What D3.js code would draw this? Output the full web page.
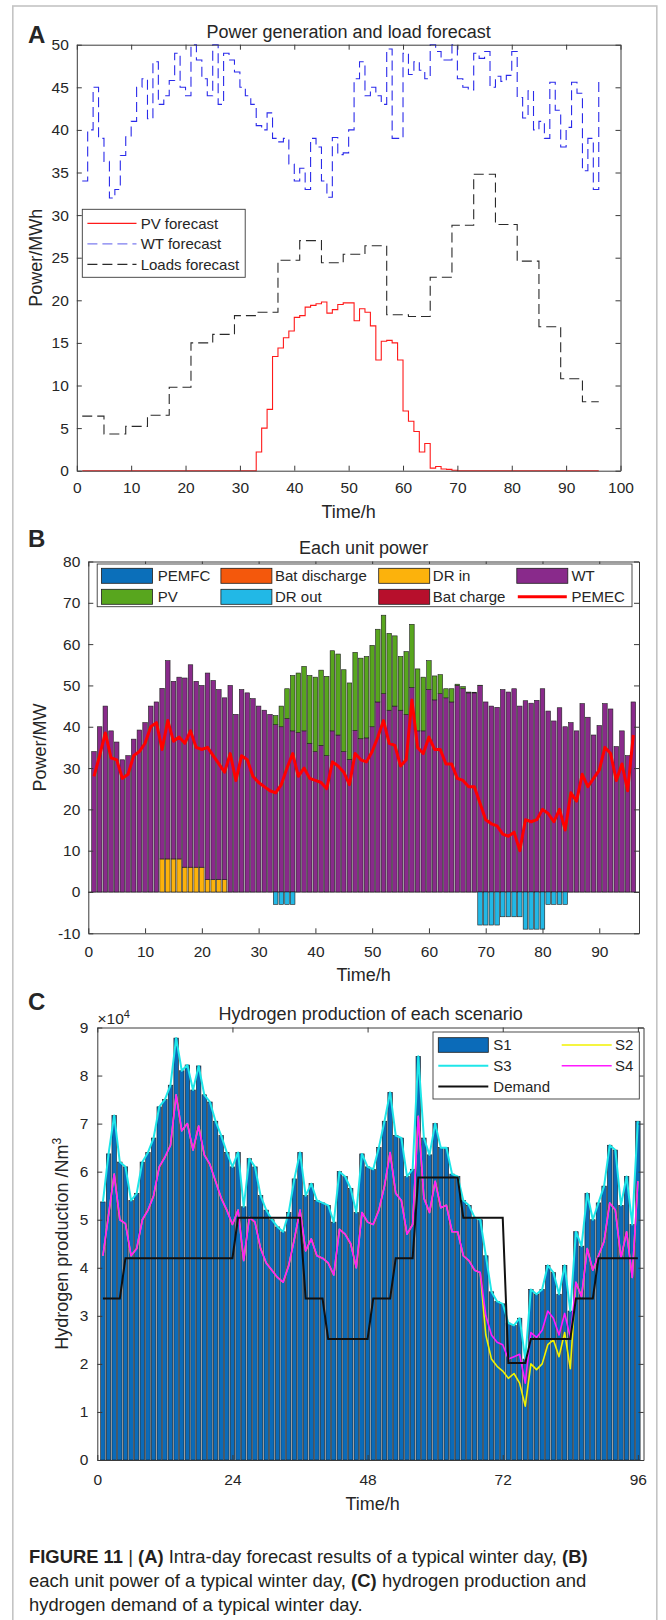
<!DOCTYPE html>
<html>
<head>
<meta charset="utf-8">
<title>Typical winter day: forecast, unit power and hydrogen production</title>
<script src="https://cdn.jsdelivr.net/npm/d3@7"></script>
<style>
  html, body { margin: 0; padding: 0; background: #fff; }
  svg { display: block; }
  text { font-family: "Liberation Sans", Arial, Helvetica, sans-serif; fill: #262626; }
</style>
</head>
<body>
<svg id="figure" width="666" height="1620"></svg>
<script>
// ---------------- data ----------------
// quarter-hour steps of the day
const steps = d3.range(1, 97);

// (A) forecasts, MW
const windForecast = [
  34, 40, 45, 39, 36.3, 32, 33, 37, 39.2, 41,
  45, 46, 41.3, 48, 43, 44, 45.8, 49, 45, 44,
  50, 48.2, 46, 44, 50, 43, 49, 48.2, 46.8, 45,
  44, 43, 40.5, 40, 42, 39, 38.6, 39, 36, 34,
  35.5, 33, 39, 38, 34, 32.1, 39.1, 37.1, 37.3, 40,
  46, 48, 44, 45, 44, 43, 49.5, 39, 39, 49,
  46.5, 48, 47, 46, 50, 49.2, 48.2, 48.2, 50, 46,
  45, 44.7, 49, 48.4, 49.2, 45, 46.3, 45.7, 46.4, 49.2,
  43.8, 41.4, 44.6, 40, 41, 39, 45.6, 42.3, 38, 40.3,
  45.6, 44.3, 35.2, 39, 33, 46
];
const pvForecast = [
  0, 0, 0, 0, 0, 0, 0, 0, 0, 0,
  0, 0, 0, 0, 0, 0, 0, 0, 0, 0,
  0, 0, 0, 0, 0, 0, 0, 0, 0, 0,
  0, 0, 2.2, 5.0, 7.2, 13.4, 14.4, 15.6, 16.4, 18.0,
  18.2, 19.2, 19.4, 19.6, 19.8, 18.5, 18.9, 19.5, 19.7, 19.7,
  17.6, 19.0, 18.6, 17.0, 13.0, 15.2, 15.3, 15.0, 13.0, 7.0,
  5.8, 4.6, 2.2, 3.2, 0.3, 0.5, 0.2, 0.15, 0.05, 0,
  0, 0, 0, 0, 0, 0, 0, 0, 0, 0,
  0, 0, 0, 0, 0, 0, 0, 0, 0, 0,
  0, 0, 0, 0, 0, 0
];
const loadHourly = [
  6.4, 4.3, 5.2, 6.5, 9.8, 15.0, 16.0, 18.2, 18.6, 24.7, 27.0, 24.4,
  25.4, 26.4, 18.3, 18.1, 22.7, 28.8, 34.8, 28.9, 24.6, 16.9, 10.8, 8.1
];

// (B) unit outputs, MW (hourly schedules hold for four steps)
const pemfcHourly        = [0,0,0,0,0,0,0,0,0,0,0,0,0,0,0,0,0,0,0,0,0,0,0,0];
const batDischargeHourly = [0,0,0,0,0,0,0,0,0,0,0,0,0,0,0,0,0,0,0,0,0,0,0,0];
const drInHourly         = [0,0,0,8,6,3,0,0,0,0,0,0,0,0,0,0,0,0,0,0,0,0,0,0];
const drOutHourly        = [0,0,0,0,0,0,0,0,-3,0,0,0,0,0,0,0,0,-8,-6,-9,-3,0,0,0];
const batChargeHourly    = [0,0,0,0,0,0,0,0,0,0,0,0,0,0,0,0,0,0,0,0,0,0,0,0];
const pemecPower = [
  28, 33, 38.5, 32.5, 32, 27.5, 28.5, 33, 34, 36,
  40, 41, 34.5, 41.5, 36.5, 37.5, 36, 39, 35, 34.5,
  35, 33, 31, 29, 33.5, 27, 33, 32, 28, 26.5,
  25.5, 24.5, 24, 26, 30, 33.5, 28, 30, 27.5, 27,
  26.5, 25, 31.5, 30.5, 29, 26, 33.5, 32, 31.5, 34,
  37.5, 41.5, 36, 35.5, 30.5, 32, 46.5, 35, 33.5, 37.5,
  34.5, 34.5, 31, 31, 27.5, 27, 25.5, 25.5, 21.5, 17.5,
  16.5, 16, 14, 13.5, 14.5, 10, 17.5, 17, 17.5, 20,
  19, 17, 20, 15, 24, 22, 28.5, 25.5, 27.5, 29.5,
  35, 33.5, 27, 31, 24.5, 38
];

// (C) hydrogen production per scenario, 10^4 Nm³
const s1 = [
  5.37, 6.37, 7.17, 6.2, 6.1, 5.4, 5.55, 6.2, 6.4, 6.7,
  7.35, 7.5, 7.8, 8.78, 8.1, 8.22, 7.7, 8.2, 7.6, 7.45,
  7.05, 6.75, 6.4, 6.1, 6.4, 5.27, 6.27, 6.1, 5.5, 5.2,
  5.0, 4.85, 4.75, 5.15, 5.85, 6.4, 5.5, 5.75, 5.4, 5.35,
  5.3, 4.95, 6.0, 5.9, 5.65, 5.15, 6.37, 6.1, 6.05, 6.5,
  7.05, 7.65, 6.75, 6.7, 5.9, 6.05, 8.4, 6.7, 6.35, 7.0,
  6.5, 6.5, 5.95, 5.9, 5.4, 5.3, 5.05, 5.0, 4.25, 3.5,
  3.3, 3.25, 2.85, 2.8, 2.95, 2.1, 3.55, 3.45, 3.55, 4.05,
  3.9, 3.45, 4.05, 3.1, 4.75, 4.45, 5.55, 5.0, 5.35, 5.7,
  6.55, 6.45, 5.3, 5.9, 4.9, 7.05
];
const s2 = [
  4.25, 5.1, 5.95, 5.0, 4.92, 4.25, 4.4, 5.0, 5.2, 5.5,
  6.1, 6.3, 6.55, 7.6, 6.85, 7.0, 6.45, 6.95, 6.35, 6.15,
  5.8, 5.45, 5.2, 4.9, 5.2, 4.15, 5.05, 4.95, 4.4, 4.1,
  3.95, 3.8, 3.7, 4.05, 4.6, 5.2, 4.35, 4.6, 4.25, 4.2,
  4.1, 3.85, 4.8, 4.7, 4.5, 4.0, 5.15, 4.95, 4.9, 5.2,
  5.7, 6.4, 5.55, 5.4, 4.7, 4.9, 7.15, 5.45, 5.15, 5.8,
  5.25, 5.3, 4.75, 4.75, 4.25, 4.15, 3.95, 3.9, 2.6, 2.1,
  1.95, 1.85, 1.7, 1.8, 1.6, 1.12, 2.0, 1.88, 2.0, 2.4,
  2.5, 2.15, 2.65, 1.9, 3.7, 3.4, 4.4, 3.95, 4.25, 4.55,
  5.35, 5.2, 4.2, 4.75, 3.8, 5.8
];
const s3 = [
  5.37, 6.37, 7.17, 6.2, 6.1, 5.4, 5.55, 6.2, 6.4, 6.7,
  7.35, 7.5, 7.8, 8.78, 8.1, 8.22, 7.7, 8.2, 7.6, 7.45,
  7.05, 6.75, 6.4, 6.1, 6.4, 5.27, 6.27, 6.1, 5.5, 5.2,
  5.0, 4.85, 4.75, 5.15, 5.85, 6.4, 5.5, 5.75, 5.4, 5.35,
  5.3, 4.95, 6.0, 5.9, 5.65, 5.15, 6.37, 6.1, 6.05, 6.5,
  7.05, 7.65, 6.75, 6.7, 5.9, 6.05, 8.4, 6.7, 6.35, 7.0,
  6.5, 6.5, 5.95, 5.9, 5.4, 5.3, 5.05, 5.0, 4.25, 3.5,
  3.3, 3.25, 2.85, 2.8, 2.95, 2.1, 3.55, 3.45, 3.55, 4.05,
  3.9, 3.45, 4.05, 3.1, 4.75, 4.45, 5.55, 5.0, 5.35, 5.7,
  6.55, 6.45, 5.3, 5.9, 4.9, 7.05
];
const s4 = [
  4.25, 5.1, 5.95, 5.0, 4.92, 4.25, 4.4, 5.0, 5.2, 5.5,
  6.1, 6.3, 6.55, 7.6, 6.85, 7.0, 6.45, 6.95, 6.35, 6.15,
  5.8, 5.45, 5.2, 4.9, 5.2, 4.15, 5.05, 4.95, 4.4, 4.1,
  3.95, 3.8, 3.7, 4.05, 4.6, 5.2, 4.35, 4.6, 4.25, 4.2,
  4.1, 3.85, 4.8, 4.7, 4.5, 4.0, 5.15, 4.95, 4.9, 5.2,
  5.7, 6.4, 5.55, 5.4, 4.7, 4.9, 7.15, 5.45, 5.15, 5.8,
  5.25, 5.3, 4.75, 4.75, 4.25, 4.15, 3.95, 3.9, 3.0, 2.6,
  2.45, 2.4, 2.1, 2.15, 2.2, 1.6, 2.65, 2.55, 2.7, 3.1,
  2.95, 2.6, 3.05, 2.55, 3.7, 3.4, 4.4, 3.95, 4.25, 4.55,
  5.35, 5.2, 4.2, 4.75, 3.8, 5.8
];
const demandHourly = [
  3.36, 4.2, 4.2, 4.2, 4.2, 4.2, 5.04, 5.04, 5.04, 3.36, 2.52, 2.52,
  3.36, 4.2, 5.88, 5.88, 5.04, 5.04, 2.02, 2.52, 2.52, 3.36, 4.2, 4.2
];

// tick values
const ticksAx = [0, 10, 20, 30, 40, 50, 60, 70, 80, 90, 100];
const ticksAy = [0, 5, 10, 15, 20, 25, 30, 35, 40, 45, 50];
const ticksBx = [0, 10, 20, 30, 40, 50, 60, 70, 80, 90];
const ticksBy = [-10, 0, 10, 20, 30, 40, 50, 60, 70, 80];
const ticksCx = [0, 24, 48, 72, 96];
const ticksCy = [0, 1, 2, 3, 4, 5, 6, 7, 8, 9];

// ---------------- drawing ----------------
const svg = d3.select("#figure");
const AXIS = "#3a3a3a";
const TICK_FONT = "15.5px";
const LABEL_FONT = "18px";

// light outer frame
svg.append("rect")
  .attr("x", 12.8).attr("y", 6).attr("width", 644).attr("height", 1640)
  .attr("fill", "none").attr("stroke", "#c4c4c4").attr("stroke-width", 1.6);

function styleAxis(sel) {
  sel.attr("font-family", null).attr("font-size", null);
  sel.select(".domain").attr("stroke", AXIS).attr("stroke-width", 1);
  sel.selectAll(".tick line").attr("stroke", AXIS).attr("stroke-width", 1);
  sel.selectAll(".tick text").style("font-size", TICK_FONT).attr("fill", "#262626");
}

// boxed axes with inward ticks on all four sides
function boxAxes(g, x, y, o) {
  const [yb, yt] = y.range();
  const [xl, xr] = x.range();
  const tl = 5;
  const fmt = d => String(d);
  g.append("g").attr("transform", `translate(0,${yb})`)
    .call(d3.axisBottom(x).tickValues(o.xTicks).tickFormat(fmt).tickSizeInner(-tl).tickSizeOuter(0).tickPadding(o.xPad))
    .call(styleAxis);
  g.append("g").attr("transform", `translate(0,${yt})`)
    .call(d3.axisTop(x).tickValues(o.xTicks).tickFormat("").tickSizeInner(-tl).tickSizeOuter(0))
    .call(styleAxis);
  g.append("g").attr("transform", `translate(${xl},0)`)
    .call(d3.axisLeft(y).tickValues(o.yTicks).tickFormat(fmt).tickSizeInner(-tl).tickSizeOuter(0).tickPadding(o.yPad))
    .call(styleAxis);
  g.append("g").attr("transform", `translate(${xr},0)`)
    .call(d3.axisRight(y).tickValues(o.yTicks).tickFormat("").tickSizeInner(-tl).tickSizeOuter(0))
    .call(styleAxis);
}

function text(g, x, y, s, size, opts = {}) {
  const t = g.append("text").attr("x", x).attr("y", y).text(s).style("font-size", size);
  if (opts.anchor) t.attr("text-anchor", opts.anchor);
  if (opts.bold) t.style("font-weight", "bold");
  if (opts.rotate) t.attr("transform", `rotate(-90,${x},${y})`);
  return t;
}

// ===== (A) Power generation and load forecast =====
{
  const g = svg.append("g");
  const x = d3.scaleLinear().domain([0, 100]).range([76.8, 620.5]);
  const y = d3.scaleLinear().domain([0, 50]).range([470.7, 44.7]);

  const stairs = d3.line().curve(d3.curveStepAfter).x(d => x(d[0])).y(d => y(d[1]));
  const loadSteps = steps.map(t => [t, loadHourly[Math.floor((t - 1) / 4)]]);

  g.append("path").datum(steps.map((t, i) => [t, pvForecast[i]]))
    .attr("d", stairs).attr("fill", "none").attr("stroke", "#ff1a1a").attr("stroke-width", 1.1);
  g.append("path").datum(steps.map((t, i) => [t, windForecast[i]]))
    .attr("d", stairs).attr("fill", "none").attr("stroke", "#2b2bea").attr("stroke-width", 1.1)
    .attr("stroke-dasharray", "10,5");
  g.append("path").datum(loadSteps)
    .attr("d", stairs).attr("fill", "none").attr("stroke", "#2a2a2a").attr("stroke-width", 1.1)
    .attr("stroke-dasharray", "10,5");

  boxAxes(g, x, y, { xTicks: ticksAx, yTicks: ticksAy, xPad: 11, yPad: 8 });

  // legend
  const lg = g.append("g");
  lg.append("rect").attr("x", 82.3).attr("y", 209.3).attr("width", 162.9).attr("height", 68)
    .attr("fill", "#fff").attr("stroke", AXIS).attr("stroke-width", 0.9);
  const items = [
    { label: "PV forecast", color: "#ff1a1a", dash: null },
    { label: "WT forecast", color: "#7d7df0", dash: "10,5" },
    { label: "Loads forecast", color: "#2a2a2a", dash: "10,5" }
  ];
  items.forEach((it, i) => {
    const cy = 223.3 + i * 20.5;
    lg.append("line").attr("x1", 87.4).attr("x2", 136.5).attr("y1", cy).attr("y2", cy)
      .attr("stroke", it.color).attr("stroke-width", 1.2).attr("stroke-dasharray", it.dash);
    text(lg, 140.7, cy + 5.3, it.label, "15px");
  });

  text(g, 348.6, 38, "Power generation and load forecast", LABEL_FONT, { anchor: "middle" });
  text(g, 348.6, 518, "Time/h", LABEL_FONT, { anchor: "middle" });
  text(g, 42, 257.7, "Power/MWh", LABEL_FONT, { anchor: "middle", rotate: true });
  text(g, 28, 43, "A", "24px", { bold: true });
}

// ===== (B) Each unit power =====
{
  const g = svg.append("g");
  const x = d3.scaleLinear().domain([0, 97]).range([88.3, 639]);
  const y = d3.scaleLinear().domain([-10, 80]).range([933.3, 561.5]);

  const rows = steps.map((t, i) => {
    const h = Math.floor(i / 4);
    return {
      t,
      pemfc: pemfcHourly[h],
      batDis: batDischargeHourly[h],
      drIn: drInHourly[h],
      wind: windForecast[i],
      pv: pvForecast[i],
      drOut: drOutHourly[h],
      batCh: batChargeHourly[h]
    };
  });
  const keys = ["pemfc", "batDis", "drIn", "wind", "pv", "drOut", "batCh"];
  const colors = {
    pemfc: "#0b6fba", batDis: "#f4580c", drIn: "#fcb20c", wind: "#892a8b",
    pv: "#58a61e", drOut: "#22b8e6", batCh: "#b70f2c"
  };
  const stacked = d3.stack().keys(keys).offset(d3.stackOffsetDiverging)(rows);
  const bw = (x(1) - x(0)) * 0.8;

  // zero baseline of the bars
  g.append("line").attr("x1", x(0)).attr("x2", x(97)).attr("y1", y(0)).attr("y2", y(0))
    .attr("stroke", "#555").attr("stroke-width", 1);

  stacked.forEach(series => {
    g.append("g").selectAll("rect")
      .data(series.filter(d => d[1] !== d[0]))
      .join("rect")
      .attr("x", d => x(d.data.t) - bw / 2)
      .attr("width", bw)
      .attr("y", d => y(Math.max(d[0], d[1])))
      .attr("height", d => Math.abs(y(d[0]) - y(d[1])))
      .attr("fill", colors[series.key])
      .attr("stroke", "#1e1e1e").attr("stroke-width", 0.6);
  });

  g.append("path").datum(steps.map((t, i) => [t, pemecPower[i]]))
    .attr("d", d3.line().x(d => x(d[0])).y(d => y(d[1])))
    .attr("fill", "none").attr("stroke", "#ff0000").attr("stroke-width", 3)
    .attr("stroke-linejoin", "round");

  boxAxes(g, x, y, { xTicks: ticksBx, yTicks: ticksBy, xPad: 12.5, yPad: 8 });

  // legend
  const lg = g.append("g");
  lg.append("rect").attr("x", 97.2).attr("y", 564).attr("width", 534.8).attr("height", 42.7)
    .attr("fill", "#fff").attr("stroke", AXIS).attr("stroke-width", 0.9);
  const colX = [101.5, 220.9, 378.7, 516.8];
  const txtX = [157.8, 275, 432.8, 571.4];
  const entries = [
    ["PEMFC", "pemfc"], ["Bat discharge", "batDis"], ["DR in", "drIn"], ["WT", "wind"],
    ["PV", "pv"], ["DR out", "drOut"], ["Bat charge", "batCh"], ["PEMEC", null]
  ];
  entries.forEach(([label, key], i) => {
    const c = i % 4, r = Math.floor(i / 4);
    const cy = 575.8 + r * 21;
    if (key) {
      lg.append("rect").attr("x", colX[c]).attr("y", cy - 7.5).attr("width", 51).attr("height", 15)
        .attr("fill", colors[key]).attr("stroke", "#1e1e1e").attr("stroke-width", 0.8);
    } else {
      lg.append("line").attr("x1", colX[c] + 1).attr("x2", colX[c] + 50).attr("y1", cy).attr("y2", cy)
        .attr("stroke", "#ff0000").attr("stroke-width", 3);
    }
    text(lg, txtX[c], cy + 5.4, label, "15px");
  });

  text(g, 363.6, 554, "Each unit power", LABEL_FONT, { anchor: "middle" });
  text(g, 363.6, 981, "Time/h", LABEL_FONT, { anchor: "middle" });
  text(g, 46.5, 747.4, "Power/MW", LABEL_FONT, { anchor: "middle", rotate: true });
  text(g, 28, 547, "B", "24px", { bold: true });
}

// ===== (C) Hydrogen production of each scenario =====
{
  const g = svg.append("g");
  const x = d3.scaleLinear().domain([0, 97]).range([97.3, 643.5]);
  const y = d3.scaleLinear().domain([0, 9]).range([1460, 1027.5]);
  const bw = (x(1) - x(0)) * 0.8;

  g.append("g").selectAll("rect")
    .data(steps.map((t, i) => [t, s1[i]]))
    .join("rect")
    .attr("x", d => x(d[0]) - bw / 2).attr("width", bw)
    .attr("y", d => y(d[1])).attr("height", d => y(0) - y(d[1]))
    .attr("fill", "#0b6bb9").attr("stroke", "#1a1a1a").attr("stroke-width", 0.6);

  const line = d3.line().x(d => x(d[0])).y(d => y(d[1]));
  const scen = [
    { data: s2, color: "#f2f200", w: 1.6 },
    { data: s3, color: "#1fe6e9", w: 2 },
    { data: s4, color: "#ff1aff", w: 1.6 }
  ];
  scen.forEach(s => {
    g.append("path").datum(steps.map((t, i) => [t, s.data[i]]))
      .attr("d", line).attr("fill", "none").attr("stroke", s.color)
      .attr("stroke-width", s.w).attr("stroke-linejoin", "round");
  });
  g.append("path").datum(steps.map(t => [t, demandHourly[Math.floor((t - 1) / 4)]]))
    .attr("d", line).attr("fill", "none").attr("stroke", "#111").attr("stroke-width", 2);

  boxAxes(g, x, y, { xTicks: ticksCx, yTicks: ticksCy, xPad: 14, yPad: 9 });

  // legend
  const lg = g.append("g");
  lg.append("rect").attr("x", 433).attr("y", 1032).attr("width", 206.3).attr("height", 67)
    .attr("fill", "#fff").attr("stroke", AXIS).attr("stroke-width", 0.9);
  const rowsY = [1045, 1065.8, 1086.6];
  lg.append("rect").attr("x", 438.3).attr("y", rowsY[0] - 7.3).attr("width", 50).attr("height", 14.6)
    .attr("fill", "#0b6bb9").attr("stroke", "#1a1a1a").attr("stroke-width", 0.8);
  text(lg, 493.3, rowsY[0] + 5.3, "S1", "15px");
  const lineItems = [
    { label: "S2", color: "#f2f200", x1: 561.7, tx: 615, yy: rowsY[0], w: 1.6 },
    { label: "S3", color: "#1fe6e9", x1: 438.3, tx: 493.3, yy: rowsY[1], w: 2 },
    { label: "S4", color: "#ff1aff", x1: 561.7, tx: 615, yy: rowsY[1], w: 1.6 },
    { label: "Demand", color: "#111", x1: 438.3, tx: 493.3, yy: rowsY[2], w: 2 }
  ];
  lineItems.forEach(it => {
    lg.append("line").attr("x1", it.x1).attr("x2", it.x1 + 50).attr("y1", it.yy).attr("y2", it.yy)
      .attr("stroke", it.color).attr("stroke-width", it.w);
    text(lg, it.tx, it.yy + 5.3, it.label, "15px");
  });

  // exponent marker of the y axis
  const ex = g.append("text").attr("x", 97.5).attr("y", 1023.5).style("font-size", TICK_FONT);
  ex.append("tspan").text("×10");
  ex.append("tspan").text("4").attr("dy", "-6").style("font-size", "11px");

  text(g, 370.7, 1020, "Hydrogen production of each scenario", LABEL_FONT, { anchor: "middle" });
  text(g, 372.7, 1510, "Time/h", LABEL_FONT, { anchor: "middle" });
  const yl = text(g, 68, 1243.8, "Hydrogen production /Nm", LABEL_FONT, { anchor: "middle", rotate: true });
  yl.append("tspan").text("3").attr("dy", "-7").style("font-size", "12px");
  text(g, 28, 1010, "C", "24px", { bold: true });
}

// ===== caption =====
{
  const g = svg.append("g").style("white-space", "pre");
  const lines = [
    { y: 1562.5, len: 558.6, parts: [["FIGURE 11", true], [" | ", false], ["(A)", true],
      [" Intra-day forecast results of a typical winter day, ", false], ["(B)", true]] },
    { y: 1586.5, len: 557.3, parts: [["each unit power of a typical winter day, ", false], ["(C)", true],
      [" hydrogen production and", false]] },
    { y: 1610.5, len: 333.5, parts: [["hydrogen demand of a typical winter day.", false]] }
  ];
  lines.forEach(l => {
    const t = g.append("text").attr("x", 29).attr("y", l.y)
      .style("font-size", "17.5px").attr("fill", "#231f20")
      .attr("textLength", l.len).attr("lengthAdjust", "spacingAndGlyphs");
    l.parts.forEach(([s, b]) => {
      t.append("tspan").text(s).style("font-weight", b ? "bold" : "normal").attr("fill", "#231f20");
    });
  });
}
</script>
</body>
</html>
